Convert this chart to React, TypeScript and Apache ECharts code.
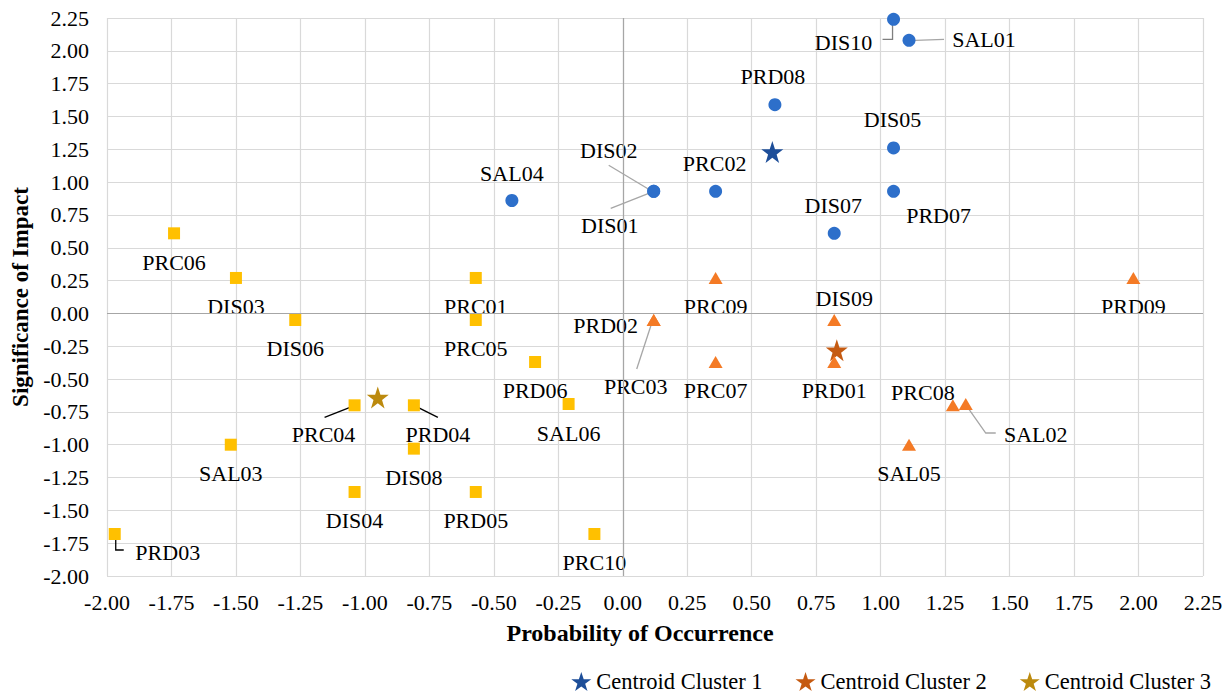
import React, { useEffect, useRef } from "react";
import * as echarts from "echarts";

// ---------- data ----------
const cluster1Names = ["DIS10", "SAL01", "PRD08", "DIS05", "PRD07", "DIS07", "PRC02", "DIS02", "DIS01", "SAL04"];
const cluster1X = [1.05, 1.11, 0.59, 1.05, 1.05, 0.82, 0.36, 0.12, 0.12, -0.43];
const cluster1Y = [2.24, 2.08, 1.59, 1.26, 0.93, 0.61, 0.93, 0.93, 0.93, 0.86];

const cluster2Names = ["PRC09", "PRD02", "PRC03", "PRC07", "DIS09", "PRD01", "PRC08", "SAL02", "SAL05", "PRD09"];
const cluster2X = [0.36, 0.12, 0.12, 0.36, 0.82, 0.82, 1.28, 1.33, 1.11, 1.98];
const cluster2Y = [0.27, -0.05, -0.05, -0.37, -0.05, -0.37, -0.70, -0.69, -1.0, 0.27];

const cluster3Names = ["PRC06", "DIS03", "DIS06", "PRC01", "PRC05", "PRD06", "SAL06", "PRD04", "DIS08", "PRD05", "PRC10", "PRC04", "SAL03", "DIS04", "PRD03"];
const cluster3X = [-1.74, -1.5, -1.27, -0.57, -0.57, -0.34, -0.21, -0.81, -0.81, -0.57, -0.11, -1.04, -1.52, -1.04, -1.97];
const cluster3Y = [0.61, 0.27, -0.05, 0.27, -0.05, -0.37, -0.69, -0.7, -1.03, -1.36, -1.68, -0.7, -1.0, -1.36, -1.68];

const centroidNames = ["Centroid Cluster 1", "Centroid Cluster 2", "Centroid Cluster 3"];
const centroidX = [0.58, 0.83, -0.95];
const centroidY = [1.23, -0.28, -0.64];

const axisMin = -2;
const xAxisMax = 2.25;
const yAxisMax = 2.25;
const axisStep = 0.25;

// ---------- styling / layout ----------
const FONT = "'Liberation Serif', 'Times New Roman', serif";
const STAR = "path://M50,0 L61.8,35.4 L99,35.4 L69,57.3 L80.3,92.7 L50,70.8 L19.7,92.7 L31,57.3 L1,35.4 L38.2,35.4 Z";

const clusterColors = ["#2D6FCA", "#F47A25", "#FFC000"];
const centroidColors = ["#1D4E99", "#C55A11", "#BC8A0E"];

const defaultOffset: [number, number] = [0, 29];
const labelOffset: Record<string, [number, number]> = {
  DIS10: [-50, 23], SAL01: [75, -1], PRD08: [-2, -28], DIS05: [-1, -28], PRD07: [45, 24],
  DIS07: [-1, -28], PRC02: [-1, -28], DIS02: [-45, -41], DIS01: [-44, 34], SAL04: [0, -27],
  PRD02: [-48, 6], PRC03: [-18, 67], DIS09: [10, -21], PRC08: [-30, -13], SAL02: [70, 30],
  PRD04: [24, 29], PRC04: [-31, 29], PRD03: [53, 19],
};

const GRAY = "#A6A6A6";
const leaders: Record<string, { pts: number[][]; color: string }> = {
  DIS10: { pts: [[-1, 4], [-1, 20], [-11, 20]], color: "#7F7F7F" },
  SAL01: { pts: [[6, 0], [35, -1]], color: GRAY },
  DIS02: { pts: [[-45, -26], [-5, -2]], color: GRAY },
  DIS01: { pts: [[-43, 17], [-5, 2]], color: GRAY },
  PRC03: { pts: [[-17, 49], [0, -3]], color: GRAY },
  SAL02: { pts: [[1, 2], [20, 29], [30, 29]], color: GRAY },
  PRD04: { pts: [[2, 1], [24, 12]], color: "#000000" },
  PRC04: { pts: [[-30, 12], [-2, 1]], color: "#000000" },
  PRD03: { pts: [[1, 2], [1, 16], [9, 16]], color: "#000000" },
};

function buildPoints(names: string[], xs: number[], ys: number[]) {
  return names.map((n, i) => ({
    name: n,
    value: [xs[i], ys[i]],
    label: { offset: labelOffset[n] || defaultOffset },
  }));
}

export default function App() {
  const ref = useRef<HTMLDivElement>(null);

  useEffect(() => {
    if (!ref.current) return;
    const chart = echarts.init(ref.current, undefined, { renderer: "svg" });

    const clusterSeries = [
      { names: cluster1Names, xs: cluster1X, ys: cluster1Y, symbol: "circle", size: 13 },
      { names: cluster2Names, xs: cluster2X, ys: cluster2Y, symbol: "triangle", size: [14, 12] },
      { names: cluster3Names, xs: cluster3X, ys: cluster3Y, symbol: "rect", size: 12 },
    ].map((c, i) => ({
      type: "scatter",
      name: "Cluster " + (i + 1),
      symbol: c.symbol,
      symbolSize: c.size,
      itemStyle: { color: clusterColors[i], opacity: 1 },
      label: {
        show: true,
        position: "inside",
        formatter: "{b}",
        color: "#000000",
        fontFamily: FONT,
        fontSize: 22,
      },
      emphasis: { disabled: true },
      z: 3,
      data: buildPoints(c.names, c.xs, c.ys),
    }));

    const centroidSeries = centroidNames.map((n, i) => ({
      type: "scatter",
      name: n,
      symbol: STAR,
      symbolSize: 22,
      itemStyle: { color: centroidColors[i], opacity: 1 },
      emphasis: { disabled: true },
      z: 2,
      data: [[centroidX[i], centroidY[i]]],
      ...(i === 0
        ? {
            markLine: {
              silent: true,
              symbol: "none",
              label: { show: false },
              lineStyle: { color: GRAY, type: "solid", width: 1.2 },
              data: [{ xAxis: 0 }, { yAxis: 0 }],
            },
          }
        : {}),
    }));

    const axisCommon = {
      type: "value",
      min: axisMin,
      interval: axisStep,
      axisLine: { show: false, onZero: false },
      axisTick: { show: false },
      splitLine: { show: true, lineStyle: { color: "#D9D9D9", width: 1.2 } },
      nameLocation: "middle",
    };

    chart.setOption({
      animation: false,
      textStyle: { fontFamily: FONT },
      grid: { left: 107, right: 23, top: 18, bottom: 121, containLabel: false },
      xAxis: {
        ...axisCommon,
        max: xAxisMax,
        name: "Probability of Occurrence",
        nameGap: 45,
        nameTextStyle: {
          fontFamily: FONT,
          fontSize: 24,
          fontWeight: "bold",
          color: "#000000",
          padding: [0, 30, 0, 0],
        },
        axisLabel: {
          margin: 15,
          fontFamily: FONT,
          fontSize: 22,
          color: "#000000",
          formatter: (v: number) => v.toFixed(2),
        },
      },
      yAxis: {
        ...axisCommon,
        max: yAxisMax,
        name: "Significance of Impact",
        nameGap: 72,
        nameTextStyle: { fontFamily: FONT, fontSize: 23, fontWeight: "bold", color: "#000000" },
        axisLabel: {
          margin: 18,
          fontFamily: FONT,
          fontSize: 22,
          color: "#000000",
          formatter: (v: number) => v.toFixed(2),
        },
      },
      legend: {
        data: centroidNames,
        right: 10,
        bottom: -1,
        itemWidth: 20,
        itemHeight: 20,
        itemGap: 33,
        icon: STAR,
        textStyle: { fontFamily: FONT, fontSize: 22.5, color: "#000000" },
        selectedMode: false,
      },
      series: [...centroidSeries, ...clusterSeries],
    });

    // leader lines from each point to its displaced label
    const allNames = [...cluster1Names, ...cluster2Names, ...cluster3Names];
    const allX = [...cluster1X, ...cluster2X, ...cluster3X];
    const allY = [...cluster1Y, ...cluster2Y, ...cluster3Y];
    const elements: any[] = [];
    allNames.forEach((n, i) => {
      const l = leaders[n];
      if (!l) return;
      const p = chart.convertToPixel({ gridIndex: 0 }, [allX[i], allY[i]]) as number[];
      elements.push({
        type: "polyline",
        silent: true,
        z: 1,
        shape: { points: l.pts.map(([dx, dy]) => [p[0] + dx, p[1] + dy]) },
        style: { stroke: l.color, lineWidth: 1.3, fill: null },
      });
    });
    chart.setOption({ graphic: { elements } });

    return () => chart.dispose();
  }, []);

  return (
    <div
      ref={ref}
      style={{ position: "fixed", left: 0, top: 0, width: 1226, height: 697, background: "#ffffff" }}
    />
  );
}
